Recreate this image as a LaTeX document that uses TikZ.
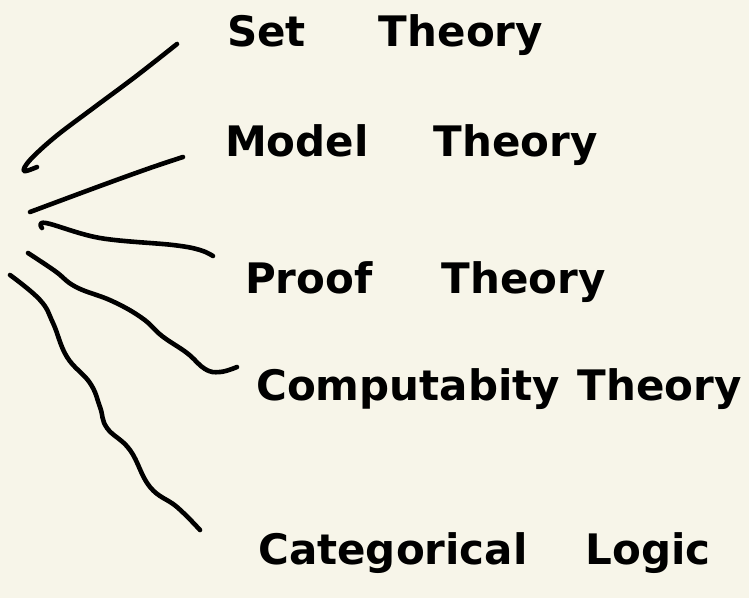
\documentclass[tikz,border=0pt]{standalone}
\usepackage{fontspec}
\setmainfont{DejaVu Sans}
\usepackage{xcolor}
\usepackage{tikz}
\usetikzlibrary{positioning}
\definecolor{paper}{HTML}{F7F5E9}

\begin{document}
\begin{tikzpicture}[
  x=1pt,
  y=-1pt,
  stroke/.style={line width=4.6pt, line cap=round, line join=round},
  topic/.style={font=\bfseries\fontsize{42}{50}\selectfont, anchor=base west, inner sep=0pt}
]
\fill[paper] (0,0) rectangle (749,598);
\useasboundingbox (0,0) rectangle (749,598);
% branches
\draw[stroke] plot[smooth, tension=0.6] coordinates {(37,167) (24,171) (30,160) (55,137) (92,109) (135,77) (177,44)};
\draw[stroke] plot[smooth, tension=0.6] coordinates {(30,212) (100,186) (150,168) (183,157)};
\draw[stroke] plot[smooth, tension=0.6] coordinates {(42,228) (46,223) (100,238) (173,245) (200,250) (213,256)};
\draw[stroke] plot[smooth, tension=0.7] coordinates {(28,253) (55,271) (76,287) (112,301) (142,318) (162,336) (187,353) (205,369) (220,372) (237,367)};
\draw[stroke] plot[smooth, tension=0.7] coordinates {(10,275) (40,300) (53,323) (67,357) (90,383) (100,407) (107,428) (130,450) (150,487) (177,507) (200,530)};
% topics
\node[topic] (settheory) at (227,46) {Set\hspace{73pt}Theory};
\node[topic] (modeltheory) at (225,156) {Model\hspace{65pt}Theory};
\node[topic] (prooftheory) at (245,293) {Proof\hspace{69pt}Theory};
\node[topic] (computability) at (256,400) {Computabity\hspace{18pt}Theory};
\node[topic] (categorical) at (258,564) {Categorical\hspace{58pt}Logic};
\end{tikzpicture}
\end{document}
